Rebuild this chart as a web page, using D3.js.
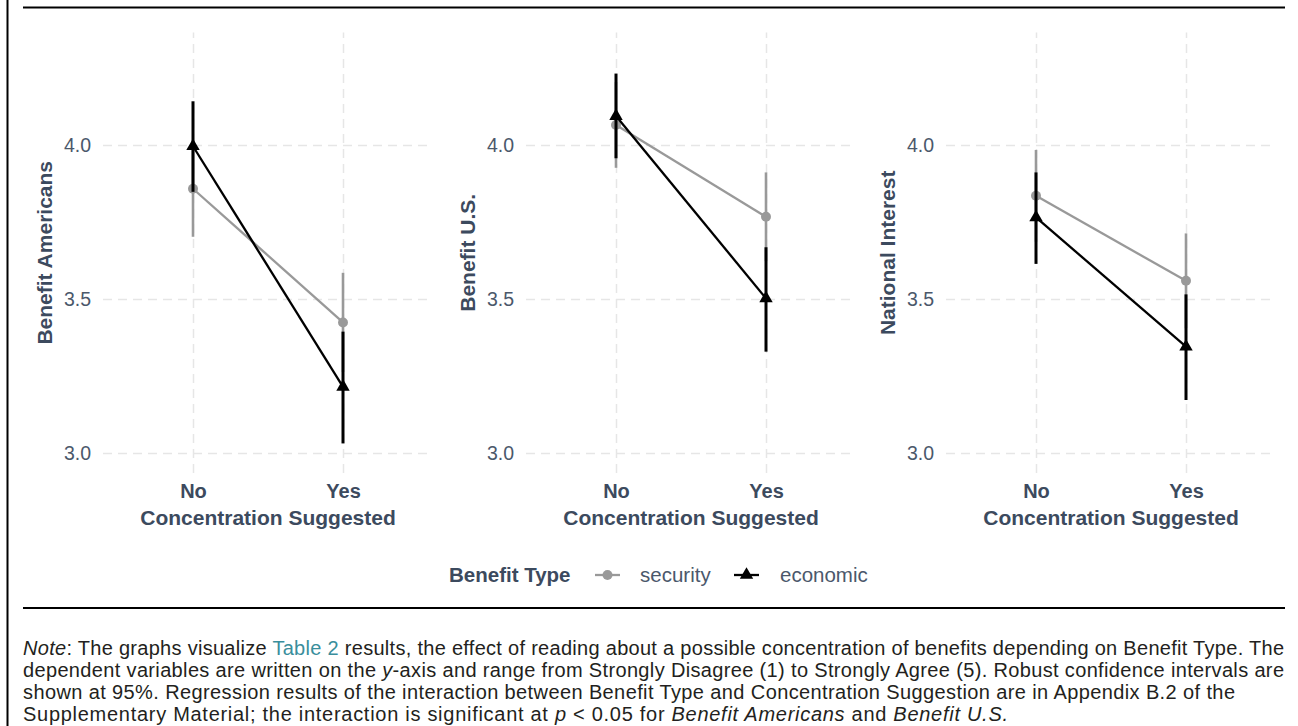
<!DOCTYPE html>
<html>
<head>
<meta charset="utf-8">
<script src="https://cdn.jsdelivr.net/npm/d3@7"></script>
<style>
  html, body { margin: 0; padding: 0; background: #fff; }
  svg { display: block; font-family: "Liberation Sans", Arial, Helvetica, sans-serif; }
</style>
</head>
<body>
<svg id="chart" width="1298" height="726"></svg>
<script>
// ---- data ----
const categories = ["No", "Yes"];
const panelTitles = ["Benefit Americans", "Benefit U.S.", "National Interest"];
const xTitle = "Concentration Suggested";
const yTicks = [3.0, 3.5, 4.0];
const seriesNames = ["security", "economic"];

const securityMean = [[3.858, 3.424], [4.065, 3.767], [3.835, 3.559]];
const securityLo   = [[3.702, 3.263], [3.926, 3.623], [3.686, 3.405]];
const securityHi   = [[4.014, 3.585], [4.204, 3.911], [3.984, 3.713]];

const economicMean = [[3.996, 3.215], [4.094, 3.502], [3.765, 3.345]];
const economicLo   = [[3.848, 3.031], [3.957, 3.329], [3.614, 3.172]];
const economicHi   = [[4.142, 3.394], [4.232, 3.668], [3.911, 3.515]];

const noteLines = [
  [["i","Note"],["n",": The graphs visualize "],["l","Table 2"],["n"," results, the effect of reading about a possible concentration of benefits depending on Benefit Type. The"]],
  [["n","dependent variables are written on the "],["i","y"],["n","-axis and range from Strongly Disagree (1) to Strongly Agree (5). Robust confidence intervals are"]],
  [["n","shown at 95%. Regression results of the interaction between Benefit Type and Concentration Suggestion are in Appendix B.2 of the"]],
  [["n","Supplementary Material; the interaction is significant at "],["i","p"],["n"," < 0.05 for "],["i","Benefit Americans"],["n"," and "],["i","Benefit U.S."]]
];

// ---- layout ----
const svg = d3.select("#chart");
svg.append("rect").attr("width", 1298).attr("height", 726).attr("fill", "#fff");

const titleColor = "#3c4a5e";
const tickColor = "#4b586b";
const panelLefts = [103, 526, 946];
const panelW = 330;
const yTop = 32.6, yBot = 473;

const y = d3.scaleLinear().domain([2.935, 4.365]).range([yBot, yTop]);
const colors = { security: "#999999", economic: "#000000" };

// frame lines
svg.append("line").attr("x1", 7.5).attr("x2", 7.5).attr("y1", 0).attr("y2", 726)
  .attr("stroke", "#000").attr("stroke-width", 2);
svg.append("line").attr("x1", 23).attr("x2", 1285).attr("y1", 7.5).attr("y2", 7.5)
  .attr("stroke", "#000").attr("stroke-width", 2.2);
svg.append("line").attr("x1", 23).attr("x2", 1285).attr("y1", 608).attr("y2", 608)
  .attr("stroke", "#000").attr("stroke-width", 2.2);

const triangle = d3.symbol().type(d3.symbolTriangle).size(78);
const circle = d3.symbol().type(d3.symbolCircle).size(78);

panelTitles.forEach((title, p) => {
  const left = panelLefts[p];
  const x = d3.scalePoint().domain(categories).range([left, left + panelW]).padding(0.6);
  const g = svg.append("g");

  // horizontal grid + y tick labels
  const ya = g.append("g").attr("transform", `translate(${left},0)`)
    .call(d3.axisLeft(y).tickValues(yTicks).tickFormat(d3.format(".1f")).tickSize(-panelW).tickPadding(12));
  ya.select(".domain").remove();
  ya.selectAll("line").attr("stroke", "#e6e6e6").attr("stroke-width", 1.5).attr("stroke-dasharray", "9,6");
  ya.selectAll("text").attr("fill", tickColor).style("font-size", "19.5px")
    .style("font-family", "'Liberation Sans', Arial, sans-serif");

  // vertical grid + x tick labels
  const xa = g.append("g").attr("transform", `translate(0,${yBot})`)
    .call(d3.axisBottom(x).tickSize(-(yBot - yTop)).tickPadding(11));
  xa.select(".domain").remove();
  xa.selectAll("line").attr("stroke", "#e6e6e6").attr("stroke-width", 1.5).attr("stroke-dasharray", "9,6");
  xa.selectAll("text").attr("fill", titleColor).style("font-size", "20px").style("font-weight", "bold")
    .style("font-family", "'Liberation Sans', Arial, sans-serif");

  // x title
  g.append("text").attr("x", (x("No") + x("Yes")) / 2)
    .attr("y", 525).attr("text-anchor", "middle")
    .attr("fill", titleColor).style("font-size", "21px").style("font-weight", "bold").text(xTitle);

  // y title
  g.append("text").attr("transform", `translate(${left - 51},${(yTop + yBot) / 2}) rotate(-90)`)
    .attr("text-anchor", "middle").attr("fill", titleColor)
    .style("font-size", "21px").style("font-weight", "bold").text(title);

  const series = [
    { name: "security", mean: securityMean[p], lo: securityLo[p], hi: securityHi[p] },
    { name: "economic", mean: economicMean[p], lo: economicLo[p], hi: economicHi[p] }
  ];

  series.forEach(s => {
    const pts = categories.map((c, i) => ({ c, m: s.mean[i], lo: s.lo[i], hi: s.hi[i] }));
    const col = colors[s.name];
    g.append("path").datum(pts)
      .attr("d", d3.line().x(d => x(d.c)).y(d => y(d.m)))
      .attr("fill", "none").attr("stroke", col).attr("stroke-width", 2.3);
    g.selectAll(null).data(pts).enter().append("line")
      .attr("x1", d => x(d.c)).attr("x2", d => x(d.c))
      .attr("y1", d => y(d.lo)).attr("y2", d => y(d.hi))
      .attr("stroke", col).attr("stroke-width", s.name === "economic" ? 3 : 2.6);
    g.selectAll(null).data(pts).enter().append("path")
      .attr("transform", d => `translate(${x(d.c)},${y(d.m)})`)
      .attr("d", s.name === "economic" ? triangle() : circle())
      .attr("fill", col);
  });
});

// legend
const lg = svg.append("g");
lg.append("text").attr("x", 449).attr("y", 582).attr("fill", titleColor)
  .style("font-size", "20.5px").style("font-weight", "bold").text("Benefit Type");
const legendItems = [
  { name: seriesNames[0], x0: 595, tx: 640 },
  { name: seriesNames[1], x0: 734, tx: 780 }
];
legendItems.forEach(it => {
  const col = colors[it.name];
  lg.append("line").attr("x1", it.x0).attr("x2", it.x0 + 25).attr("y1", 575).attr("y2", 575)
    .attr("stroke", col).attr("stroke-width", 2.3);
  lg.append("path").attr("transform", `translate(${it.x0 + 12.5},575)`)
    .attr("d", it.name === "economic" ? triangle() : circle()).attr("fill", col);
  lg.append("text").attr("x", it.tx).attr("y", 582).attr("fill", tickColor)
    .style("font-size", "20.5px").text(it.name);
});

// note
const noteWidths = [1261, 1261, 1212, 985];
const note = svg.append("g");
noteLines.forEach((line, i) => {
  const t = note.append("text").attr("x", 23).attr("y", 655 + i * 22)
    .attr("fill", "#231f20").style("font-size", "20px")
    .attr("textLength", noteWidths[i]).attr("lengthAdjust", "spacing");
  line.forEach(([kind, str]) => {
    const ts = t.append("tspan").text(str);
    if (kind === "i") ts.style("font-style", "italic");
    if (kind === "l") ts.attr("fill", "#3a8e9c");
  });
});
</script>
</body>
</html>
